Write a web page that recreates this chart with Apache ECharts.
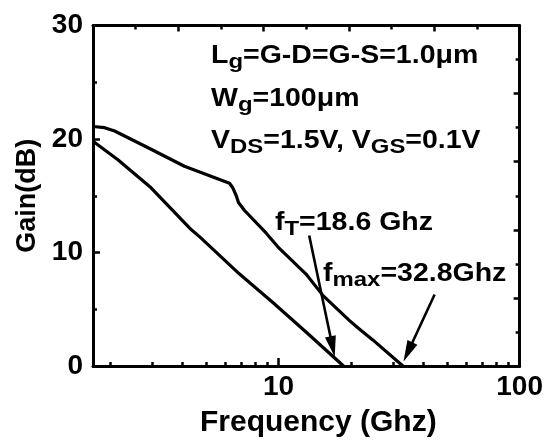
<!DOCTYPE html>
<html>
<head>
<meta charset="utf-8">
<script src="https://cdn.jsdelivr.net/npm/echarts@6/dist/echarts.min.js"></script>
<style>
  html, body { margin: 0; padding: 0; background: #fff; }
  #chart { width: 546px; height: 443px; }
</style>
</head>
<body>
<div id="chart"></div>
<script>
// Maximum available gain (MAG) curve: frequency in GHz, gain in dB
const magFreq = [1.7, 1.9, 2.09, 2.96, 4.07, 6.26, 6.46, 6.68, 6.82, 7.23, 8.89, 9.93, 13.0, 15.3, 19.7, 21.5, 24.6, 32.8];
const magGain = [21.1, 21.0, 20.7, 19.1, 17.6, 16.1, 15.7, 15.0, 14.4, 13.7, 11.7, 10.5, 8.1, 6.2, 4.0, 3.3, 2.3, 0];

// Current gain |h21| curve
const h21Freq = [1.7, 2.15, 2.96, 4.35, 4.70, 6.89, 9.47, 13.0, 18.6];
const h21Gain = [19.8, 18.2, 15.7, 12.0, 11.4, 8.1, 5.6, 3.0, 0];

// Axis ticks
const xLabels = [10, 100];
const xMajorTicks = [10];
const xMinorTicks = [2, 3, 4, 5, 6, 7, 8, 9, 20, 30, 40, 50, 60, 70, 80, 90];

// Annotation arrows: [fromFreq, fromGain, toFreq, toGain]
const ftArrow = [13.4, 11.5, 17.1, 0.8];
const fmaxArrow = [44.4, 6.3, 33.0, 0.4];

const FONT = "'Liberation Sans', Arial, Helvetica, sans-serif";

function pairs(xs, ys) { return xs.map((x, i) => [x, ys[i]]); }

// Arrow: straight shaft ending in a narrow filled head at the target point
function renderArrow(params, api) {
  const p0 = api.coord([api.value(0), api.value(1)]);
  const p1 = api.coord([api.value(2), api.value(3)]);
  const dx = p1[0] - p0[0], dy = p1[1] - p0[1];
  const len = Math.sqrt(dx * dx + dy * dy);
  const ux = dx / len, uy = dy / len;
  const headLen = 21, headHalf = 5.5;
  const bx = p1[0] - ux * headLen, by = p1[1] - uy * headLen;
  return {
    type: 'group',
    children: [
      { type: 'line', shape: { x1: p0[0], y1: p0[1], x2: bx + ux * 2, y2: by + uy * 2 },
        style: { stroke: '#000', lineWidth: 2.6 } },
      { type: 'polygon', shape: { points: [
          [p1[0], p1[1]],
          [bx - uy * headHalf, by + ux * headHalf],
          [bx + uy * headHalf, by - ux * headHalf]
        ] }, style: { fill: '#000' } }
    ]
  };
}

const mainStyle = { fontSize: 25, fontWeight: 'bold', fontFamily: FONT, color: '#000', lineHeight: 25, verticalAlign: 'top' };
const subStyle = { fontSize: 21, fontWeight: 'bold', fontFamily: FONT, color: '#000', lineHeight: 21, verticalAlign: 'top', padding: [8, 0, 0, 0] };

function note(x, y, text) {
  return {
    type: 'text', x: x, y: y, scaleX: 1.14, z: 100,
    style: { text: text, rich: { m: mainStyle, s: subStyle }, textVerticalAlign: 'top', fill: '#000' }
  };
}

const chart = echarts.init(document.getElementById('chart'), null, { renderer: 'canvas' });

const axisLineStyle = { color: '#000', width: 3 };
const tickStyle = { color: '#000', width: 2.5 };

chart.setOption({
  animation: false,
  backgroundColor: '#fff',
  grid: { left: 93, right: 26, top: 25.5, bottom: 72, containLabel: false },
  xAxis: [
    {
      type: 'log', logBase: 10, min: 1.7, max: 100, position: 'bottom',
      name: 'Frequency (Ghz)', nameLocation: 'middle', nameGap: 42,
      nameTextStyle: { fontSize: 30, fontWeight: 'bold', fontFamily: FONT, color: '#000', padding: [0, 0, 0, 24] },
      axisLine: { show: true, lineStyle: axisLineStyle },
      axisTick: { show: true, inside: true, length: 8, lineStyle: tickStyle, customValues: xMajorTicks },
      axisLabel: { show: true, customValues: xLabels, margin: 7, fontSize: 28, fontWeight: 'bold', fontFamily: FONT, color: '#000' },
      splitLine: { show: false }, minorTick: { show: false }
    },
    {
      type: 'log', logBase: 10, min: 1.7, max: 100, position: 'bottom',
      axisLine: { show: false },
      axisTick: { show: true, inside: true, length: 4, lineStyle: tickStyle, customValues: xMinorTicks },
      axisLabel: { show: false }, splitLine: { show: false }
    },
    {
      type: 'value', min: 0, max: 10, interval: 2, position: 'top',
      axisLine: { show: true, lineStyle: axisLineStyle },
      axisTick: { show: true, inside: true, length: 6, lineStyle: tickStyle },
      minorTick: { show: true, splitNumber: 2, length: 4, lineStyle: tickStyle },
      axisLabel: { show: false }, splitLine: { show: false }
    }
  ],
  yAxis: [
    {
      type: 'value', min: 0, max: 30, interval: 10, position: 'left',
      name: 'Gain(dB)', nameLocation: 'middle', nameGap: 50, nameRotate: 90,
      nameTextStyle: { fontSize: 27, fontWeight: 'bold', fontFamily: FONT, color: '#000' },
      axisLine: { show: true, lineStyle: axisLineStyle },
      axisTick: { show: true, inside: true, length: 7, lineStyle: tickStyle },
      minorTick: { show: true, splitNumber: 2, length: 4, lineStyle: tickStyle },
      axisLabel: { show: true, margin: 10, fontSize: 28, fontWeight: 'bold', fontFamily: FONT, color: '#000' },
      splitLine: { show: false }, minorSplitLine: { show: false }
    },
    {
      type: 'value', min: 0, max: 30, interval: 6, position: 'right',
      axisLine: { show: true, lineStyle: axisLineStyle },
      axisTick: { show: true, inside: true, length: 6, lineStyle: tickStyle },
      minorTick: { show: true, splitNumber: 2, length: 4, lineStyle: tickStyle },
      axisLabel: { show: false }, splitLine: { show: false }
    }
  ],
  series: [
    {
      name: 'MAG', type: 'line', xAxisIndex: 0, yAxisIndex: 0,
      data: pairs(magFreq, magGain), showSymbol: false, symbol: 'none',
      lineStyle: { color: '#000', width: 3.2 }, z: 10
    },
    {
      name: 'h21', type: 'line', xAxisIndex: 0, yAxisIndex: 0,
      data: pairs(h21Freq, h21Gain), showSymbol: false, symbol: 'none',
      lineStyle: { color: '#000', width: 3.2 }, z: 10
    },
    {
      name: 'arrows', type: 'custom', xAxisIndex: 0, yAxisIndex: 0,
      renderItem: renderArrow, silent: true, z: 11,
      encode: { x: [0, 2], y: [1, 3] },
      data: [ftArrow, fmaxArrow]
    }
  ],
  graphic: [
    note(211, 44, '{m|L}{s|g}{m|=G-D=G-S=1.0μm}'),
    note(211, 87, '{m|W}{s|g}{m|=100μm}'),
    note(211, 129, '{m|V}{s|DS}{m|=1.5V, V}{s|GS}{m|=0.1V}'),
    note(275, 211, '{m|f}{s|T}{m|=18.6 Ghz}'),
    note(323, 262, '{m|f}{s|max}{m|=32.8Ghz}')
  ]
});
</script>
</body>
</html>
